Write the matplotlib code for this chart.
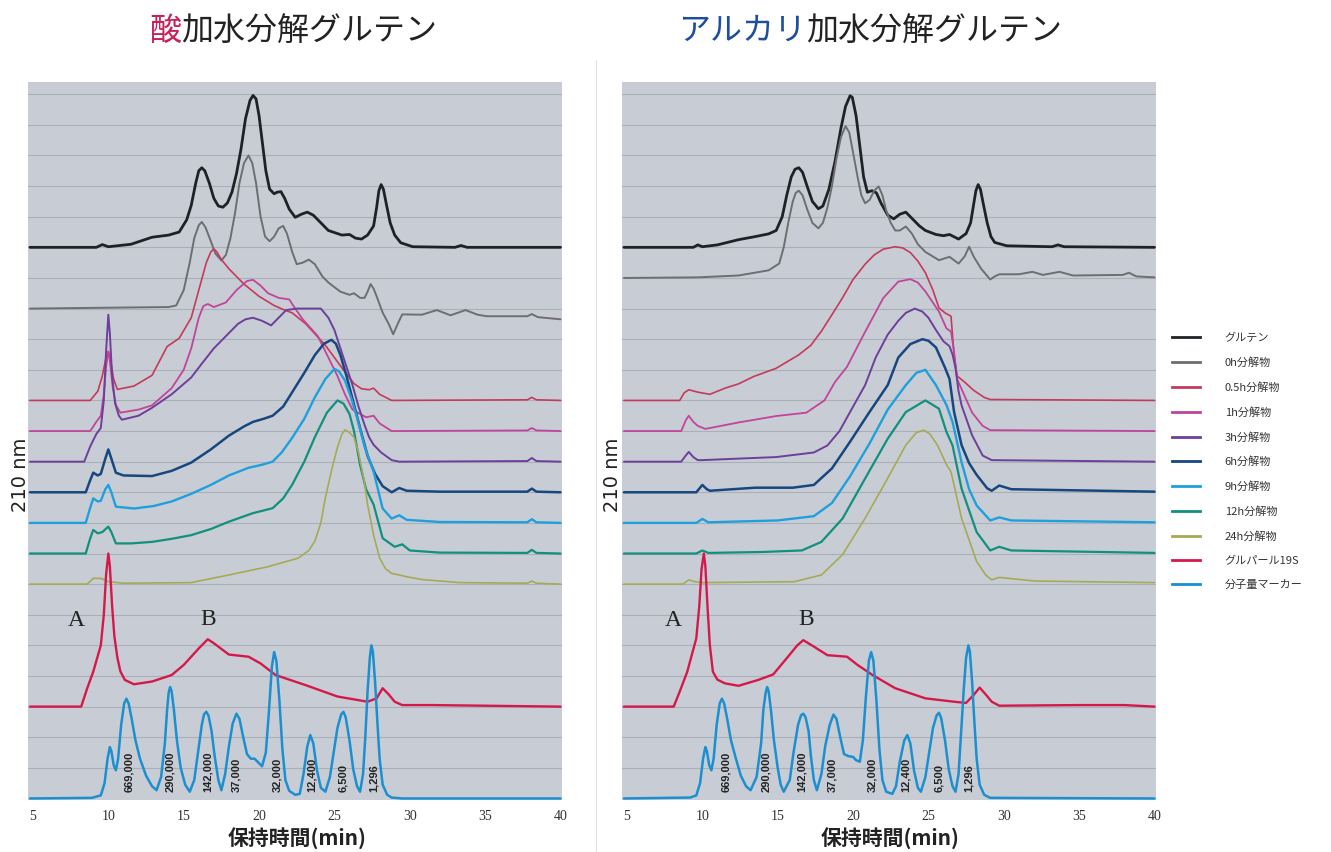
import numpy as np
import matplotlib
matplotlib.use("Agg")
import matplotlib.pyplot as plt
from matplotlib.lines import Line2D

plt.rcParams['font.family'] = ['Noto Sans CJK JP', 'DejaVu Sans']

# 凡例の順番 (上のトレースから)
labels = ["グルテン", "0h分解物", "0.5h分解物", "1h分解物", "3h分解物", "6h分解物",
          "9h分解物", "12h分解物", "24h分解物", "グルパール19S", "分子量マーカー"]
colors = ["#1e2226", "#6e6e72", "#c43a5a", "#c2449a", "#6d3f9a", "#17477e",
          "#1fa0dc", "#11907e", "#a5aa55", "#d4194a", "#1b8fcf"]
widths = [2.0, 1.4, 1.2, 1.3, 1.4, 1.8, 1.7, 1.6, 1.2, 1.7, 1.8]

# ベースライン (グリッド単位)
offsets_acid = [18, 16, 13, 12, 11, 10, 9, 8, 7, 3, 0]
offsets_alkali = [18, 17, 13, 12, 11, 10, 9, 8, 7, 3, 0]

mw_labels = ["669,000", "290,000", "142,000", "37,000", "32,000", "12,400", "6,500", "1,296"]
mw_times_acid = [11.4, 14.1, 16.6, 18.5, 21.2, 23.5, 25.6, 27.6]
mw_times_alkali = [11.6, 14.2, 16.6, 18.6, 21.3, 23.5, 25.7, 27.7]
xticks = [5, 10, 15, 20, 25, 30, 35, 40]

# ---- 酸加水分解 (保持時間 min, 相対強度) ----
acid_gluten = [(4.8, 0), (9.2, 0), (9.6, 0.09), (10.0, 0.02), (11.5, 0.1), (12.9, 0.33), (14.0, 0.4),
               (14.7, 0.5), (15.2, 0.9), (15.5, 1.37), (15.8, 2.1), (16.0, 2.5), (16.2, 2.6), (16.4, 2.5),
               (16.7, 2.1), (17.0, 1.6), (17.3, 1.35), (17.6, 1.31), (17.9, 1.45), (18.2, 1.8), (18.5, 2.4),
               (18.8, 3.2), (19.1, 4.2), (19.4, 4.8), (19.6, 4.96), (19.8, 4.85), (20.0, 4.3), (20.2, 3.5),
               (20.45, 2.5), (20.7, 1.9), (21.0, 1.75), (21.2, 1.8), (21.45, 1.82), (21.7, 1.6), (22.0, 1.25),
               (22.4, 0.98), (22.8, 1.08), (23.2, 1.15), (23.6, 1.05), (24.1, 0.8), (24.6, 0.55), (25.5, 0.4),
               (26.0, 0.42), (26.4, 0.3), (26.8, 0.27), (27.2, 0.4), (27.6, 0.7), (27.8, 1.3), (27.95, 1.85),
               (28.1, 2.05), (28.25, 1.9), (28.45, 1.4), (28.7, 0.8), (29.0, 0.4), (29.4, 0.15), (30.2, 0.02),
               (33.0, 0), (33.4, 0.06), (33.8, 0), (40.0, 0)]
acid_0h = [(4.8, 0), (14.0, 0.05), (14.5, 0.1), (15.0, 0.6), (15.4, 1.5), (15.7, 2.3), (16.0, 2.72),
           (16.2, 2.83), (16.45, 2.65), (16.8, 2.2), (17.1, 1.8), (17.5, 1.57), (17.8, 1.75), (18.1, 2.3),
           (18.4, 3.1), (18.7, 4.1), (19.0, 4.75), (19.3, 5.0), (19.55, 4.75), (19.8, 4.1), (20.1, 3.0),
           (20.4, 2.35), (20.7, 2.2), (21.0, 2.35), (21.3, 2.62), (21.6, 2.7), (21.85, 2.45), (22.2, 1.85),
           (22.5, 1.45), (22.9, 1.5), (23.3, 1.6), (23.7, 1.45), (24.2, 1.05), (24.6, 0.85), (25.4, 0.55),
           (26.0, 0.45), (26.3, 0.5), (26.7, 0.35), (27.0, 0.35), (27.2, 0.55), (27.4, 0.8), (27.6, 0.65),
           (27.8, 0.4), (28.2, -0.13), (28.6, -0.5), (28.9, -0.84), (29.2, -0.5), (29.5, -0.19),
           (30.8, -0.2), (31.8, -0.05), (32.7, -0.22), (33.7, -0.05), (34.5, -0.2), (35.1, -0.25),
           (37.8, -0.25), (38.1, -0.18), (38.5, -0.28), (40.0, -0.35)]
acid_05h = [(4.8, 0), (8.8, 0), (9.3, 0.3), (9.6, 0.8), (9.85, 1.4), (10.0, 1.6), (10.15, 1.3), (10.35, 0.7),
            (10.6, 0.36), (11.7, 0.47), (12.9, 0.82), (13.9, 1.76), (14.7, 2.03), (15.5, 2.7), (16.0, 3.6),
            (16.5, 4.5), (16.8, 4.85), (17.0, 4.95), (17.2, 4.85), (17.5, 4.6), (18.0, 4.3), (19.0, 3.8),
            (20.0, 3.4), (21.0, 3.1), (21.7, 2.95), (22.2, 2.86), (23.1, 2.5), (24.4, 1.8), (25.0, 1.4),
            (25.7, 0.93), (26.3, 0.55), (26.8, 0.38), (27.3, 0.35), (27.6, 0.4), (28.0, 0.2), (28.8, 0),
            (37.8, 0.02), (38.1, 0.1), (38.4, 0.02), (40.0, 0)]
acid_1h = [(4.8, 0), (8.8, 0), (9.2, 0.3), (9.5, 0.5), (9.7, 1.2), (9.85, 2.1), (10.0, 2.6), (10.1, 2.3),
           (10.3, 1.4), (10.5, 0.85), (10.8, 0.6), (12.0, 0.7), (12.9, 0.84), (14.2, 1.4), (15.0, 2.0),
           (15.5, 2.7), (16.0, 3.7), (16.3, 4.08), (16.6, 4.15), (17.0, 4.05), (17.8, 4.2), (18.5, 4.6),
           (19.2, 4.9), (19.6, 4.94), (20.1, 4.75), (20.6, 4.5), (21.3, 4.35), (22.0, 4.3), (22.4, 4.0),
           (22.9, 3.65), (23.9, 3.1), (24.5, 2.5), (25.2, 1.8), (25.7, 1.2), (26.2, 0.7), (27.1, 0.45),
           (27.6, 0.5), (28.0, 0.25), (28.8, 0), (37.8, 0.02), (38.1, 0.1), (38.4, 0.02), (40.0, 0)]
acid_3h = [(4.8, 0), (8.4, 0), (8.8, 0.5), (9.2, 0.9), (9.5, 1.1), (9.7, 2.0), (9.85, 3.6), (10.0, 4.8),
           (10.1, 4.2), (10.25, 2.8), (10.45, 1.9), (10.7, 1.5), (10.9, 1.37), (12.0, 1.5), (12.9, 1.76),
           (14.2, 2.2), (15.5, 2.75), (16.2, 3.2), (17.0, 3.7), (17.8, 4.1), (18.6, 4.5), (19.1, 4.65),
           (19.6, 4.7), (20.2, 4.6), (20.8, 4.45), (21.3, 4.7), (21.8, 4.95), (22.5, 5.0), (23.1, 5.0),
           (24.1, 5.0), (24.6, 4.7), (25.0, 4.3), (25.4, 3.7), (25.8, 3.1), (26.2, 2.5), (26.6, 1.8),
           (27.0, 1.2), (27.3, 0.8), (27.6, 0.55), (28.1, 0.3), (28.8, 0.05), (29.3, 0), (37.8, 0.02),
           (38.1, 0.12), (38.4, 0.02), (40.0, 0)]
acid_6h = [(4.8, 0), (8.5, 0), (8.8, 0.4), (9.0, 0.64), (9.3, 0.55), (9.5, 0.6), (9.8, 1.1), (10.0, 1.4),
           (10.2, 1.1), (10.5, 0.64), (11.0, 0.55), (12.9, 0.53), (14.2, 0.7), (15.5, 0.97), (16.8, 1.4),
           (18.0, 1.85), (19.0, 2.15), (19.6, 2.3), (20.3, 2.4), (20.9, 2.5), (21.6, 2.8), (22.2, 3.27),
           (23.0, 3.9), (23.7, 4.48), (24.3, 4.85), (24.8, 4.98), (25.1, 4.85), (25.4, 4.48), (25.8, 3.8),
           (26.2, 3.05), (26.7, 2.1), (27.2, 1.19), (27.7, 0.6), (28.2, 0.2), (28.8, 0), (29.3, 0.14),
           (29.8, 0.05), (32.0, 0.02), (37.8, 0.02), (38.1, 0.12), (38.4, 0.02), (40.0, 0)]
acid_9h = [(4.8, 0), (8.5, 0), (8.8, 0.5), (9.0, 0.8), (9.3, 0.7), (9.5, 0.72), (9.8, 1.1), (10.0, 1.24),
           (10.2, 1.0), (10.5, 0.53), (11.7, 0.47), (13.0, 0.55), (14.2, 0.7), (15.5, 0.95), (16.8, 1.24),
           (18.0, 1.55), (19.3, 1.8), (20.2, 1.9), (20.9, 2.0), (21.5, 2.3), (22.2, 2.78), (23.0, 3.4),
           (23.7, 4.1), (24.4, 4.7), (25.0, 5.03), (25.3, 4.95), (25.7, 4.65), (26.1, 4.1), (26.5, 3.44),
           (27.0, 2.5), (27.6, 1.68), (28.2, 0.47), (28.8, 0.14), (29.3, 0.25), (29.8, 0.1), (32.0, 0.03),
           (37.8, 0.02), (38.1, 0.12), (38.4, 0.02), (40.0, 0)]
acid_12h = [(4.8, 0), (8.5, 0), (8.8, 0.5), (9.0, 0.77), (9.3, 0.66), (9.6, 0.7), (10.0, 0.88), (10.2, 0.7),
            (10.5, 0.33), (11.5, 0.33), (12.9, 0.38), (14.2, 0.48), (15.5, 0.6), (16.8, 0.8), (18.0, 1.04),
            (19.6, 1.32), (20.9, 1.48), (21.6, 1.8), (22.2, 2.25), (23.0, 3.0), (23.7, 3.8), (24.5, 4.6),
            (25.2, 5.0), (25.6, 4.9), (26.0, 4.56), (26.3, 4.0), (26.7, 2.9), (27.1, 2.1), (27.6, 1.6),
            (28.2, 0.5), (29.0, 0.22), (29.5, 0.3), (30.0, 0.1), (32.0, 0.03), (37.8, 0.02), (38.1, 0.12),
            (38.4, 0.02), (40.0, 0)]
acid_24h = [(4.8, 0), (8.6, 0), (9.0, 0.19), (9.5, 0.19), (10.0, 0.08), (11.0, 0.03), (15.5, 0.05),
            (18.0, 0.3), (20.6, 0.57), (22.6, 0.85), (23.3, 1.1), (23.7, 1.4), (24.1, 2.0), (24.4, 2.82),
            (24.8, 3.7), (25.2, 4.47), (25.5, 4.9), (25.7, 5.04), (26.0, 4.95), (26.3, 4.8), (26.6, 4.3),
            (27.0, 3.3), (27.2, 2.6), (27.6, 1.6), (28.0, 0.85), (28.4, 0.5), (28.8, 0.35), (29.3, 0.3),
            (29.8, 0.24), (30.8, 0.15), (33.3, 0.05), (37.8, 0.03), (38.1, 0.1), (38.4, 0.03), (40.0, 0)]
acid_19s = [(4.8, 0), (8.2, 0), (8.6, 0.6), (9.0, 1.14), (9.5, 2.0), (9.7, 3.0), (9.85, 4.3), (10.0, 5.0),
            (10.1, 4.6), (10.25, 3.3), (10.4, 2.3), (10.6, 1.6), (10.8, 1.15), (11.1, 0.87), (11.7, 0.73),
            (12.9, 0.82), (14.2, 1.03), (15.0, 1.36), (16.0, 1.9), (16.6, 2.2), (17.0, 2.07), (18.0, 1.7),
            (19.3, 1.63), (20.1, 1.41), (21.1, 1.03), (23.1, 0.7), (25.2, 0.33), (27.2, 0.16), (27.8, 0.27),
            (28.2, 0.6), (28.6, 0.4), (29.0, 0.16), (29.5, 0.05), (31.5, 0.05), (40.0, 0)]
acid_marker = [(4.8, 0), (8.9, 0.02), (9.5, 0.1), (9.75, 0.5), (9.95, 1.3), (10.1, 1.68), (10.2, 1.55),
               (10.35, 1.1), (10.5, 0.92), (10.65, 1.3), (10.85, 2.4), (11.05, 3.1), (11.2, 3.26), (11.35, 3.1),
               (11.55, 2.6), (11.8, 1.9), (12.1, 1.3), (12.5, 0.75), (12.9, 0.4), (13.2, 0.27), (13.5, 0.7),
               (13.75, 1.8), (13.9, 2.9), (14.0, 3.45), (14.1, 3.64), (14.2, 3.5), (14.35, 2.9), (14.55, 1.9),
               (14.8, 1.0), (15.1, 0.45), (15.4, 0.22), (15.7, 0.6), (15.95, 1.5), (16.2, 2.4), (16.35, 2.75),
               (16.5, 2.83), (16.65, 2.7), (16.85, 2.2), (17.05, 1.4), (17.3, 0.6), (17.5, 0.27), (17.75, 0.8),
               (18.0, 1.7), (18.25, 2.45), (18.5, 2.77), (18.7, 2.6), (18.95, 2.0), (19.2, 1.45), (19.45, 1.3),
               (19.7, 1.3), (19.9, 1.2), (20.2, 1.05), (20.45, 1.5), (20.65, 2.8), (20.85, 4.3), (21.0, 4.78),
               (21.15, 4.5), (21.35, 3.2), (21.55, 1.6), (21.75, 0.6), (22.0, 0.25), (22.4, 0.12), (22.7, 0.15),
               (22.95, 0.8), (23.2, 1.7), (23.4, 2.07), (23.6, 1.8), (23.85, 0.9), (24.1, 0.35), (24.4, 0.22),
               (24.7, 0.7), (24.95, 1.5), (25.2, 2.3), (25.45, 2.75), (25.6, 2.83), (25.75, 2.65), (26.0, 1.9),
               (26.25, 0.95), (26.5, 0.4), (26.7, 0.22), (26.9, 0.8), (27.05, 2.0), (27.2, 3.5), (27.35, 4.6),
               (27.45, 5.0), (27.55, 4.8), (27.7, 3.8), (27.85, 2.5), (28.0, 1.3), (28.2, 0.45), (28.5, 0.12),
               (28.8, 0.03), (29.5, 0), (40.0, 0)]

# ---- アルカリ加水分解 ----
alk_gluten = [(4.8, 0), (9.4, 0), (9.7, 0.08), (10.0, 0.02), (11.0, 0.08), (12.4, 0.25), (13.5, 0.35),
              (14.4, 0.44), (14.9, 0.55), (15.3, 1.0), (15.6, 1.7), (15.9, 2.3), (16.15, 2.55), (16.4, 2.6),
              (16.65, 2.45), (16.95, 2.0), (17.3, 1.5), (17.7, 1.26), (18.0, 1.35), (18.4, 1.9), (18.8, 2.8),
              (19.2, 3.9), (19.5, 4.6), (19.8, 4.95), (19.95, 4.9), (20.2, 4.3), (20.45, 3.3), (20.7, 2.3),
              (20.95, 1.8), (21.25, 1.85), (21.55, 1.78), (21.85, 1.45), (22.3, 1.05), (22.7, 0.93),
              (23.1, 1.08), (23.5, 1.15), (23.9, 0.95), (24.4, 0.7), (24.8, 0.55), (25.5, 0.42), (26.0, 0.38),
              (26.4, 0.42), (27.0, 0.27), (27.5, 0.45), (27.8, 0.8), (28.0, 1.4), (28.15, 1.85), (28.3, 2.05),
              (28.45, 1.9), (28.65, 1.4), (28.9, 0.8), (29.15, 0.35), (29.4, 0.16), (30.2, 0.05), (33.2, 0.02),
              (33.6, 0.08), (34.0, 0.02), (40.0, 0)]
alk_0h = [(4.8, 0), (9.7, 0.02), (12.4, 0.08), (14.4, 0.25), (15.1, 0.47), (15.4, 1.0), (15.7, 1.8),
          (16.0, 2.5), (16.2, 2.78), (16.4, 2.85), (16.65, 2.7), (16.95, 2.25), (17.3, 1.8), (17.7, 1.62),
          (18.0, 1.8), (18.3, 2.3), (18.6, 3.0), (18.9, 3.9), (19.2, 4.6), (19.5, 4.96), (19.75, 4.75),
          (20.0, 4.1), (20.3, 3.3), (20.55, 2.7), (20.8, 2.44), (21.1, 2.55), (21.4, 2.85), (21.7, 2.99),
          (21.95, 2.7), (22.2, 2.2), (22.5, 1.8), (22.8, 1.55), (23.1, 1.55), (23.5, 1.68), (23.9, 1.45),
          (24.3, 1.1), (24.8, 0.85), (25.7, 0.58), (26.4, 0.69), (27.0, 0.47), (27.4, 0.7), (27.7, 1.02),
          (28.0, 0.7), (28.5, 0.3), (29.1, -0.05), (29.4, 0.05), (29.7, 0.12), (31.0, 0.12), (31.9, 0.2),
          (32.6, 0.1), (33.7, 0.2), (34.6, 0.08), (37.9, 0.1), (38.3, 0.17), (38.8, 0.05), (40.0, 0.02)]
alk_05h = [(4.8, 0), (8.5, 0), (8.8, 0.25), (9.1, 0.35), (9.7, 0.27), (10.5, 0.2), (11.5, 0.4), (12.4, 0.54),
           (13.4, 0.78), (14.9, 1.05), (16.4, 1.49), (17.2, 1.8), (17.9, 2.26), (18.6, 2.8), (19.3, 3.35),
           (20.0, 3.95), (20.8, 4.45), (21.4, 4.75), (22.0, 4.94), (22.8, 5.02), (23.3, 4.98), (23.8, 4.83),
           (24.3, 4.55), (24.8, 4.17), (25.3, 3.6), (25.7, 3.02), (26.1, 2.86), (26.5, 2.75), (26.7, 1.5),
           (26.9, 0.8), (27.4, 0.6), (28.0, 0.33), (28.7, 0.1), (29.1, 0.03), (40.0, 0)]
alk_1h = [(4.8, 0), (8.6, 0), (8.9, 0.35), (9.1, 0.5), (9.4, 0.3), (9.7, 0.17), (10.2, 0.07), (12.4, 0.28),
          (14.9, 0.49), (16.9, 0.6), (18.1, 1.0), (18.8, 1.6), (19.6, 2.1), (20.8, 3.24), (22.0, 4.34),
          (23.0, 4.88), (23.8, 4.96), (24.3, 4.85), (24.8, 4.56), (25.7, 3.9), (26.2, 3.35), (26.5, 3.25),
          (26.7, 2.6), (26.9, 1.7), (27.2, 1.37), (27.9, 0.6), (28.6, 0.17), (29.1, 0.03), (40.0, 0)]
alk_3h = [(4.8, 0), (8.6, 0), (8.9, 0.2), (9.1, 0.32), (9.4, 0.15), (9.7, 0.05), (10.0, 0.05), (12.4, 0.1),
          (14.9, 0.15), (17.4, 0.3), (18.3, 0.53), (19.1, 1.0), (19.8, 1.62), (20.8, 2.5), (21.5, 3.4),
          (22.3, 4.15), (23.0, 4.6), (23.5, 4.86), (24.1, 5.0), (24.6, 4.9), (25.0, 4.7), (25.5, 4.3),
          (26.0, 3.93), (26.4, 3.77), (26.6, 3.5), (26.8, 3.05), (27.0, 2.3), (27.2, 1.84), (27.9, 0.86),
          (28.6, 0.2), (29.2, 0.05), (40.0, 0)]
alk_6h = [(4.8, 0), (9.6, 0), (10.0, 0.24), (10.3, 0.1), (10.5, 0.05), (13.5, 0.15), (16.0, 0.15),
          (17.4, 0.24), (18.6, 0.78), (19.8, 1.65), (21.1, 2.63), (22.3, 3.5), (23.0, 4.4), (23.8, 4.84),
          (24.6, 5.0), (25.0, 4.95), (25.5, 4.73), (26.1, 4.07), (26.4, 3.7), (26.7, 2.63), (27.2, 1.54),
          (27.7, 0.95), (28.2, 0.57), (28.9, 0.13), (29.2, 0.05), (29.7, 0.22), (30.5, 0.1), (40.0, 0.02)]
alk_9h = [(4.8, 0), (9.6, 0), (10.0, 0.13), (10.4, 0.02), (15.0, 0.08), (17.4, 0.22), (18.6, 0.65),
          (19.8, 1.52), (21.1, 2.6), (22.3, 3.7), (23.5, 4.5), (24.2, 4.9), (24.8, 5.0), (25.5, 4.5),
          (26.2, 3.85), (26.6, 3.3), (27.2, 1.98), (27.7, 1.1), (28.2, 0.57), (29.1, 0.08), (29.7, 0.18),
          (30.5, 0.08), (40.0, 0.02)]
alk_12h = [(4.8, 0), (9.6, 0), (10.0, 0.1), (10.4, 0.02), (14.0, 0.05), (16.6, 0.1), (17.9, 0.38),
           (19.3, 1.14), (20.8, 2.45), (22.3, 3.75), (23.5, 4.62), (24.8, 5.0), (25.7, 4.73), (26.2, 3.97),
           (26.6, 3.53), (27.2, 2.12), (28.2, 0.7), (29.1, 0.1), (29.7, 0.22), (30.5, 0.1), (40.0, 0.02)]
alk_24h = [(4.8, 0), (8.7, 0), (9.1, 0.14), (9.5, 0.08), (10.0, 0.05), (16.1, 0.08), (17.9, 0.3),
           (19.3, 0.96), (20.8, 2.15), (22.3, 3.46), (23.5, 4.54), (24.2, 4.95), (24.7, 5.03), (25.1, 4.9),
           (25.6, 4.54), (26.2, 3.9), (26.5, 3.67), (27.2, 2.15), (28.2, 0.74), (28.8, 0.3), (29.2, 0.14),
           (29.7, 0.22), (32.1, 0.1), (40.0, 0.05)]
alk_19s = [(4.8, 0), (8.1, 0), (8.5, 0.49), (9.0, 1.14), (9.6, 2.23), (9.8, 3.3), (9.95, 4.5), (10.1, 5.0),
           (10.2, 4.6), (10.35, 3.2), (10.5, 2.0), (10.7, 1.14), (11.0, 0.88), (11.5, 0.76), (12.4, 0.68),
           (13.7, 0.87), (14.7, 1.05), (15.6, 1.58), (16.3, 2.0), (16.7, 2.17), (17.4, 1.96), (18.3, 1.68),
           (19.6, 1.63), (20.3, 1.36), (21.3, 1.03), (22.8, 0.6), (24.8, 0.27), (26.7, 0.16), (27.5, 0.12),
           (28.0, 0.38), (28.4, 0.62), (28.8, 0.4), (29.2, 0.16), (29.7, 0.03), (35.0, 0.05), (38.0, 0.05),
           (40.0, 0)]
alk_marker = [(4.8, 0), (9.2, 0.03), (9.6, 0.1), (9.85, 0.5), (10.05, 1.3), (10.2, 1.68), (10.3, 1.55),
              (10.45, 1.1), (10.6, 0.92), (10.75, 1.3), (10.95, 2.4), (11.15, 3.1), (11.3, 3.26), (11.45, 3.1),
              (11.65, 2.6), (11.9, 1.9), (12.2, 1.35), (12.55, 0.75), (12.9, 0.4), (13.2, 0.27), (13.6, 0.7),
              (13.9, 1.8), (14.05, 2.9), (14.2, 3.45), (14.3, 3.64), (14.4, 3.5), (14.55, 2.9), (14.75, 1.9),
              (15.0, 1.0), (15.2, 0.45), (15.4, 0.22), (15.8, 0.6), (16.05, 1.5), (16.35, 2.4), (16.55, 2.72),
              (16.7, 2.77), (16.85, 2.65), (17.05, 2.2), (17.2, 1.4), (17.4, 0.6), (17.6, 0.27), (17.9, 0.8),
              (18.15, 1.7), (18.45, 2.4), (18.7, 2.74), (18.9, 2.6), (19.15, 2.0), (19.4, 1.45), (19.7, 1.38),
              (20.0, 1.36), (20.2, 1.25), (20.45, 1.2), (20.65, 1.9), (20.85, 3.3), (21.05, 4.5), (21.2, 4.78),
              (21.35, 4.5), (21.55, 3.2), (21.75, 1.6), (21.95, 0.6), (22.2, 0.22), (22.6, 0.15), (22.85, 0.4),
              (23.1, 1.2), (23.4, 1.9), (23.6, 2.07), (23.8, 1.8), (24.05, 0.9), (24.3, 0.35), (24.5, 0.22),
              (24.8, 0.7), (25.05, 1.5), (25.3, 2.3), (25.55, 2.72), (25.7, 2.8), (25.85, 2.62), (26.1, 1.9),
              (26.35, 0.95), (26.6, 0.4), (26.8, 0.22), (27.0, 0.8), (27.15, 2.0), (27.35, 3.6), (27.5, 4.6),
              (27.65, 5.0), (27.75, 4.8), (27.9, 3.8), (28.05, 2.5), (28.2, 1.3), (28.4, 0.45), (28.7, 0.12),
              (29.1, 0.02), (40.0, 0)]

acid_traces = [acid_gluten, acid_0h, acid_05h, acid_1h, acid_3h, acid_6h, acid_9h, acid_12h,
               acid_24h, acid_19s, acid_marker]
alk_traces = [alk_gluten, alk_0h, alk_05h, alk_1h, alk_3h, alk_6h, alk_9h, alk_12h,
              alk_24h, alk_19s, alk_marker]


def draw_panel(ax, traces, offsets, mw_times, pos_a, pos_b):
    ax.set_facecolor('#c8cdd5')
    for k in range(1, 24):
        ax.axhline(k, color='#aab0b8', lw=0.8, zorder=1)
    for tr, off, c, w in zip(traces, offsets, colors, widths):
        arr = np.array(tr)
        ax.plot(arr[:, 0], arr[:, 1] + off, color=c, lw=w, zorder=3,
                solid_joinstyle='round', solid_capstyle='round')
    for lab, t in zip(mw_labels, mw_times):
        ax.text(t, 0.22, lab, rotation=90, ha='center', va='bottom', fontsize=8,
                fontweight='bold', family='Liberation Sans', color='#222', zorder=4)
    ax.text(pos_a[0], pos_a[1], 'A', family='Liberation Serif', fontsize=17,
            ha='center', va='center', color='#222', zorder=4)
    ax.text(pos_b[0], pos_b[1], 'B', family='Liberation Serif', fontsize=17,
            ha='center', va='center', color='#222', zorder=4)
    ax.set_xlim(4.67, 40.1)
    ax.set_ylim(-0.05, 23.4)
    ax.set_xticks(xticks)
    ax.set_yticks([])
    ax.tick_params(axis='x', length=0, pad=7, labelsize=10, labelcolor='#333')
    for lbl in ax.get_xticklabels():
        lbl.set_family('Liberation Serif')
    for s in ax.spines.values():
        s.set_visible(False)


fig = plt.figure(figsize=(13.31, 8.52), dpi=100)
ax1 = fig.add_axes([28 / 1331, 52 / 852, 534 / 1331, 718 / 852])
ax2 = fig.add_axes([622 / 1331, 52 / 852, 534 / 1331, 718 / 852])

draw_panel(ax1, acid_traces, offsets_acid, mw_times_acid, (7.85, 5.8), (16.6, 5.85))
draw_panel(ax2, alk_traces, offsets_alkali, mw_times_alkali, (8.05, 5.8), (16.9, 5.85))

# パネル間の薄い区切り線
fig.add_artist(Line2D([596 / 1331, 596 / 1331], [0, 1 - 60 / 852], color='#dcdcdc', lw=0.6))

# タイトル
fig.text(181 / 1331, 1 - 31 / 852, '酸', color='#c8205a', fontsize=23, ha='right', va='center')
fig.text(181 / 1331, 1 - 31 / 852, '加水分解グルテン', color='#222', fontsize=23, ha='left', va='center')
fig.text(806 / 1331, 1 - 31 / 852, 'アルカリ', color='#1d4f9c', fontsize=23, ha='right', va='center')
fig.text(806 / 1331, 1 - 31 / 852, '加水分解グルテン', color='#222', fontsize=23, ha='left', va='center')

# 軸ラベル
for xl in (20, 612):
    fig.text(xl / 1331, 1 - 475 / 852, '210 nm', rotation=90, fontsize=14,
             family='DejaVu Sans', ha='center', va='center', color='#222')
for xc in (297, 890):
    fig.text(xc / 1331, 1 - 839 / 852, '保持時間(min)', fontsize=15, fontweight='bold',
             ha='center', va='center', color='#222')

# 凡例
handles = [Line2D([0], [0], color=c, lw=2.0) for c in colors]
leg = fig.legend(handles, labels, loc='upper left', bbox_to_anchor=(1172 / 1331, 1 - 333 / 852),
                 frameon=False, fontsize=8, handlelength=2.5, handletextpad=2.25,
                 labelspacing=1.27, borderaxespad=0, borderpad=0)
for t in leg.get_texts():
    t.set_color('#333')

fig.savefig('out.png', dpi=100)
